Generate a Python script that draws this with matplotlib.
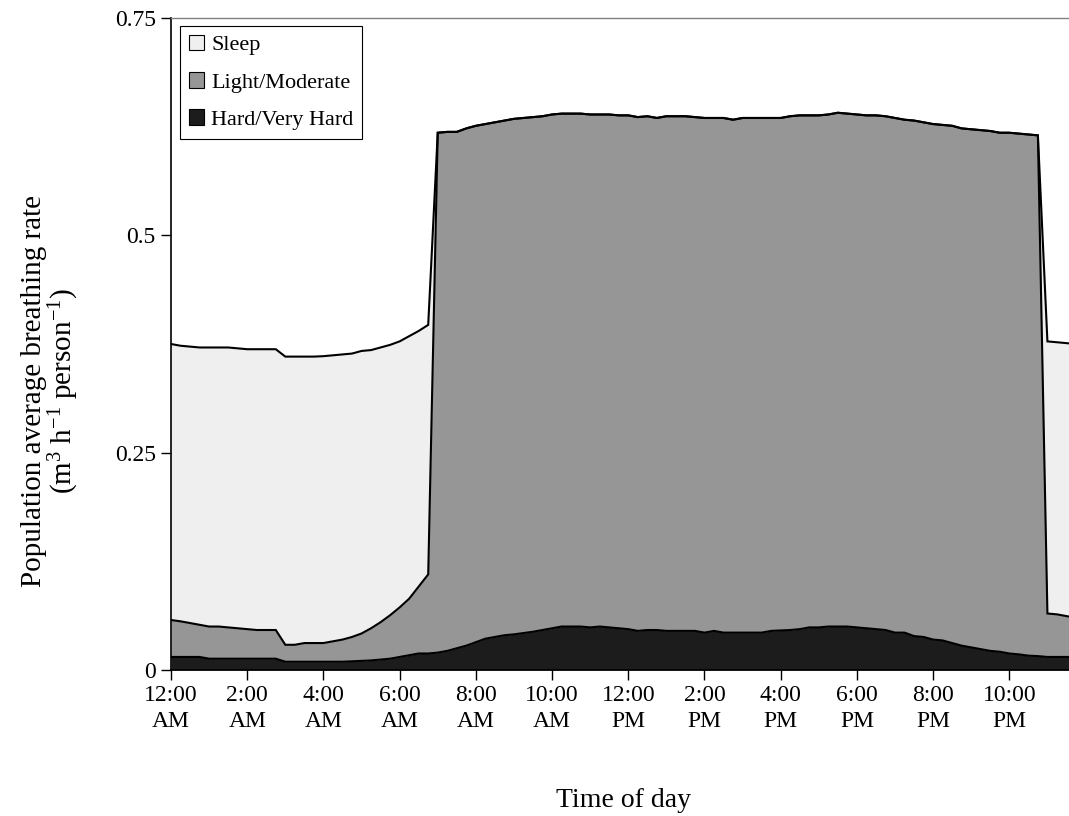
import numpy as np
import matplotlib
matplotlib.use("Agg")
import matplotlib.pyplot as plt
from matplotlib.patches import Patch

plt.rcParams['font.family'] = ['Liberation Serif', 'DejaVu Serif']
plt.rcParams['mathtext.fontset'] = 'custom'
plt.rcParams['mathtext.rm'] = 'Liberation Serif'
plt.rcParams['mathtext.it'] = 'Liberation Serif:italic'

# time of day in hours, one point every 15 minutes
hours = np.arange(96) / 4.0

# top of each stacked layer
hard_top = [
    0.015, 0.015, 0.015, 0.015, 0.013, 0.013, 0.013, 0.013,
    0.013, 0.013, 0.013, 0.013, 0.0095, 0.0095, 0.0095, 0.0095,
    0.0095, 0.0095, 0.0095, 0.010, 0.0105, 0.011, 0.012, 0.013,
    0.015, 0.017, 0.019, 0.019, 0.020, 0.022, 0.025, 0.028,
    0.032, 0.036, 0.038, 0.040, 0.041, 0.0425, 0.044, 0.046,
    0.048, 0.050, 0.050, 0.050, 0.049, 0.050, 0.049, 0.048,
    0.047, 0.045, 0.046, 0.046, 0.045, 0.045, 0.045, 0.045,
    0.043, 0.045, 0.043, 0.043, 0.043, 0.043, 0.043, 0.045,
    0.0455, 0.046, 0.047, 0.049, 0.049, 0.050, 0.050, 0.050,
    0.049, 0.048, 0.047, 0.046, 0.043, 0.043, 0.039, 0.038,
    0.035, 0.034, 0.031, 0.028, 0.026, 0.024, 0.022, 0.021,
    0.019, 0.018, 0.0165, 0.016, 0.015, 0.015, 0.015, 0.015,
]
moderate_top = [
    0.0575, 0.056, 0.054, 0.052, 0.050, 0.050, 0.049, 0.048,
    0.047, 0.046, 0.046, 0.046, 0.029, 0.029, 0.031, 0.031,
    0.031, 0.033, 0.035, 0.038, 0.042, 0.048, 0.055, 0.063,
    0.072, 0.082, 0.096, 0.110, 0.618, 0.619, 0.619, 0.623,
    0.626, 0.628, 0.630, 0.632, 0.634, 0.635, 0.636, 0.637,
    0.639, 0.640, 0.640, 0.640, 0.639, 0.639, 0.639, 0.638,
    0.638, 0.636, 0.637, 0.635, 0.637, 0.637, 0.637, 0.636,
    0.635, 0.635, 0.635, 0.633, 0.635, 0.635, 0.635, 0.635,
    0.635, 0.637, 0.638, 0.638, 0.638, 0.639, 0.641, 0.640,
    0.639, 0.638, 0.638, 0.637, 0.635, 0.633, 0.632, 0.630,
    0.628, 0.627, 0.626, 0.623, 0.622, 0.621, 0.620, 0.618,
    0.618, 0.617, 0.616, 0.615, 0.065, 0.064, 0.062, 0.060,
]
sleep_top = [
    0.375, 0.373, 0.372, 0.371, 0.371, 0.371, 0.371, 0.370,
    0.369, 0.369, 0.369, 0.369, 0.3605, 0.3605, 0.3605, 0.3605,
    0.361, 0.362, 0.363, 0.364, 0.367, 0.368, 0.371, 0.374,
    0.378, 0.384, 0.390, 0.397,
] + moderate_top[28:92] + [0.378, 0.377, 0.376, 0.375]

labels = ['Sleep', 'Light/Moderate', 'Hard/Very Hard']
colors = ['#efefef', '#969696', '#1c1c1c']
tick_hours = list(range(0, 24, 2))
tick_labels = ['12:00\nAM', '2:00\nAM', '4:00\nAM', '6:00\nAM', '8:00\nAM', '10:00\nAM',
               '12:00\nPM', '2:00\nPM', '4:00\nPM', '6:00\nPM', '8:00\nPM', '10:00\nPM']

fig = plt.figure(figsize=(10.69, 8.16), dpi=100)
ax = fig.add_axes([171 / 1069, 146 / 816, 905 / 1069, 652 / 816])

zero = np.zeros(len(hours))
ax.fill_between(hours, moderate_top, sleep_top, color=colors[0], lw=0)
ax.fill_between(hours, hard_top, moderate_top, color=colors[1], lw=0)
ax.fill_between(hours, zero, hard_top, color=colors[2], lw=0)
for top in (sleep_top, moderate_top, hard_top):
    ax.plot(hours, top, color='black', lw=1.5, solid_joinstyle='miter')

ax.set_xlim(0, 23.75)
ax.set_ylim(0, 0.75)
ax.set_yticks([0, 0.25, 0.5, 0.75])
ax.set_yticklabels(['0', '0.25', '0.5', '0.75'])
ax.set_xticks(tick_hours)
ax.set_xticklabels(tick_labels, linespacing=1.3)
ax.tick_params(axis='both', direction='out', length=7, width=1, labelsize=17, color='black')
ax.tick_params(axis='x', pad=4)
ax.tick_params(axis='y', pad=4)

for side in ('left', 'bottom'):
    ax.spines[side].set_color('black')
    ax.spines[side].set_linewidth(1.2)
for side in ('top', 'right'):
    ax.spines[side].set_color('#808080')
    ax.spines[side].set_linewidth(1)

ax.set_xlabel('Time of day', fontsize=20, labelpad=40)
ax.set_ylabel('Population average breathing rate\n(m$^{3}$ h$^{-1}$ person$^{-1}$)',
              fontsize=21, linespacing=1.0)
ax.yaxis.set_label_coords(-90 / 905, (670 - 391) / 652)

handles = [Patch(facecolor=c, edgecolor='black', lw=0.8) for c in colors]
leg = ax.legend(handles, labels, loc='upper left', bbox_to_anchor=(9 / 905, 1 - 8 / 652),
                fontsize=16, frameon=True, fancybox=False, framealpha=1,
                handlelength=0.7, handleheight=0.7, handletextpad=0.3,
                borderpad=0.4, labelspacing=0.75, borderaxespad=0)
leg.get_frame().set_edgecolor('black')
leg.get_frame().set_linewidth(0.8)

fig.savefig('out.png', dpi=100)
